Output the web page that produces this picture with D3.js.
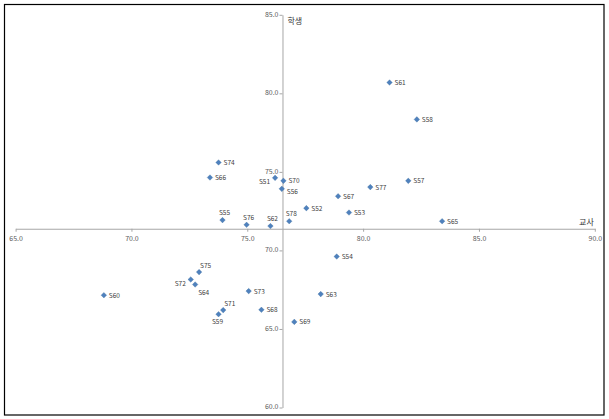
<!DOCTYPE html>
<html><head><meta charset="utf-8">
<script src="https://cdn.jsdelivr.net/npm/d3@7"></script>
<style>body{margin:0;background:#fff;} text{font-family:"Malgun Gothic","Noto Sans CJK KR","DejaVu Sans",sans-serif;}</style>
</head><body>
<svg id="c" width="609" height="419"></svg>
<script>
const names   = ["S51","S52","S53","S54","S55","S56","S57","S58","S59","S60","S61","S62","S63","S64","S65","S66","S67","S68","S69","S70","S71","S72","S73","S74","S75","S76","S77","S78"];
const teacher = [76.20,77.55,79.39,78.86,73.93,76.49,81.95,82.32,73.76,68.81,81.14,76.00,78.17,72.75,83.41,73.39,78.92,75.61,77.03,76.56,73.96,72.56,75.06,73.76,72.92,74.97,80.31,76.81];
const student = [74.62,72.69,72.41,69.61,71.93,73.92,74.43,78.34,65.94,67.15,80.69,71.55,67.22,67.83,71.86,74.64,73.45,66.22,65.45,74.43,66.20,68.15,67.41,75.60,68.62,71.63,74.03,71.86];
const labelPos = ["l","r","r","r","t","rb","r","r","b","r","r","t","r","br","r","r","r","r","r","r","tr","l","r","r","tr","t","r","t"];
const xTicks = [65,70,75,80,85,90];
const yTicks = [60,65,70,75,80,85];
const xCross = 76.52, yCross = 71.38;
const xTitle = "교사", yTitle = "학생";

const svg = d3.select("#c");
svg.append("rect").attr("x",4.5).attr("y",4.5).attr("width",599.5).attr("height",410.5)
  .attr("fill","#fff").attr("stroke","#000").attr("stroke-width",1.2);

const x = d3.scaleLinear().domain([65,90]).range([15.6,594.8]);
const y = d3.scaleLinear().domain([60,85]).range([407.5,14.8]);

const axisColor = "#a6a6a6", tickText = "#595959";
const xAxis = svg.append("g").attr("transform",`translate(0,${y(yCross)})`)
  .call(d3.axisBottom(x).tickValues(xTicks).tickFormat(d3.format(".1f")).tickSize(3).tickSizeOuter(0));
const yAxis = svg.append("g").attr("transform",`translate(${x(xCross)},0)`)
  .call(d3.axisLeft(y).tickValues(yTicks).tickFormat(d3.format(".1f")).tickSize(3).tickSizeOuter(0));
[xAxis,yAxis].forEach(g=>{
  g.select(".domain").attr("stroke",axisColor);
  g.selectAll(".tick line").attr("stroke",axisColor);
  g.selectAll(".tick text").attr("fill",tickText).attr("font-size",7).attr("font-family","DejaVu Sans, sans-serif");
});
xAxis.selectAll(".tick text").attr("dy","0.9em");
yAxis.selectAll(".tick text").attr("x",-4).attr("dy","0.2em");

svg.append("text").attr("x",x(xCross)+5).attr("y",y(85)+9).text(yTitle)
  .attr("font-size",8).attr("fill","#333");
svg.append("text").attr("x",x(90)-1).attr("y",y(yCross)-4).attr("text-anchor","end").text(xTitle)
  .attr("font-size",8).attr("fill","#333");

const data = names.map((n,i)=>({n,tx:teacher[i],st:student[i],p:labelPos[i]}));
const r = 2.8;
const diamond = `M0,${-r}L${r},0L0,${r}L${-r},0Z`;
svg.append("g").selectAll("path").data(data).join("path")
  .attr("d",diamond).attr("transform",d=>`translate(${x(d.tx)},${y(d.st)})`)
  .attr("fill","#4f81bd").attr("stroke","#41719c").attr("stroke-width",0.3);

const off = {r:[5,2.5,"start"], l:[-5,6.5,"end"], t:[2,-5,"middle"], b:[-1,10,"middle"], br:[3,10,"start"], rb:[5,5,"start"], tr:[1,-4,"start"]};
svg.append("g").selectAll("text").data(data).join("text")
  .attr("x",d=>x(d.tx)+off[d.p][0]).attr("y",d=>y(d.st)+off[d.p][1])
  .attr("text-anchor",d=>off[d.p][2]).text(d=>d.n)
  .attr("font-size",6.5).attr("fill","#404040").attr("font-family","DejaVu Sans, sans-serif");
</script>
</body></html>
